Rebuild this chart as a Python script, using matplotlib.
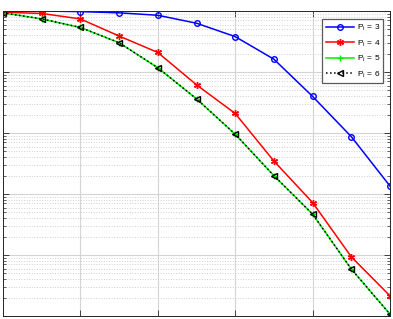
#!/usr/bin/env python3

import matplotlib.pyplot as plt
import numpy as np

##### Data
snr = [0, 2, 4, 6, 8, 10, 12, 14, 16, 18, 20]

### log10 of the plotted values
log_p3 = [0.0, 0.0, -0.01, -0.03, -0.07, -0.20, -0.42, -0.79, -1.40, -2.06, -2.87]
log_p4 = [-0.02, -0.04, -0.13, -0.41, -0.68, -1.21, -1.68, -2.46, -3.14, -4.03, -4.67]
log_p5 = [-0.03, -0.13, -0.27, -0.52, -0.93, -1.44, -2.02, -2.70, -3.33, -4.23, -4.97]
log_p6 = [-0.03, -0.13, -0.27, -0.52, -0.93, -1.44, -2.02, -2.70, -3.33, -4.23, -4.97]

labels = [r"P$_{\rm i}$ = 3", r"P$_{\rm i}$ = 4", r"P$_{\rm i}$ = 5", r"P$_{\rm i}$ = 6"]

plt.rc('font', family=['Liberation Sans', 'DejaVu Sans'], size=6)

fig = plt.figure(figsize=(3.93, 3.19), dpi=100)
ax = fig.add_axes([3 / 393, 3 / 319, 387 / 393, 305 / 319])

ax.semilogy(snr, 10 ** np.array(log_p3), color='#0000ff', marker='o', mfc='none',
            ms=4, mew=1.0, lw=1.1, label=labels[0])
ax.semilogy(snr, 10 ** np.array(log_p4), color='#ff0000', marker=(6, 2, 0),
            ms=5, mew=1.0, lw=1.1, label=labels[1])
ax.semilogy(snr, 10 ** np.array(log_p5), color='#00ee00', marker='+',
            ms=5, mew=1.0, lw=1.1, label=labels[2])
ax.semilogy(snr, 10 ** np.array(log_p6), color='black', marker='<', mfc='none',
            ms=4, mew=1.0, lw=1.1, ls=':', label=labels[3])

ax.set_xlim(0, 20)
ax.set_ylim(1e-5, 1)
ax.set_xticks([0, 4, 8, 12, 16, 20])

### Grid: solid major, dotted minor
ax.grid(which='major', color='#d4d4d4', linestyle='-', linewidth=0.8)
ax.grid(which='minor', axis='y', color='#cfcfcf', linestyle=':', linewidth=0.7)
ax.set_axisbelow(True)

ax.tick_params(which='both', direction='in', top=True, right=True,
               labelbottom=False, labelleft=False, color='#262626')
ax.tick_params(which='major', length=4, width=0.6)
ax.tick_params(which='minor', length=2, width=0.5)
for s in ax.spines.values():
    s.set_color('#262626')
    s.set_linewidth(0.7)

leg = ax.legend(loc='upper right', bbox_to_anchor=(0.983, 0.973), fontsize=6,
                fancybox=False, framealpha=1, edgecolor='#5a5a5a',
                handlelength=3.4, handletextpad=0.3, labelspacing=0.6,
                borderpad=0.4, borderaxespad=0)
leg.get_frame().set_linewidth(0.9)

plt.savefig("out.png", dpi=100)
